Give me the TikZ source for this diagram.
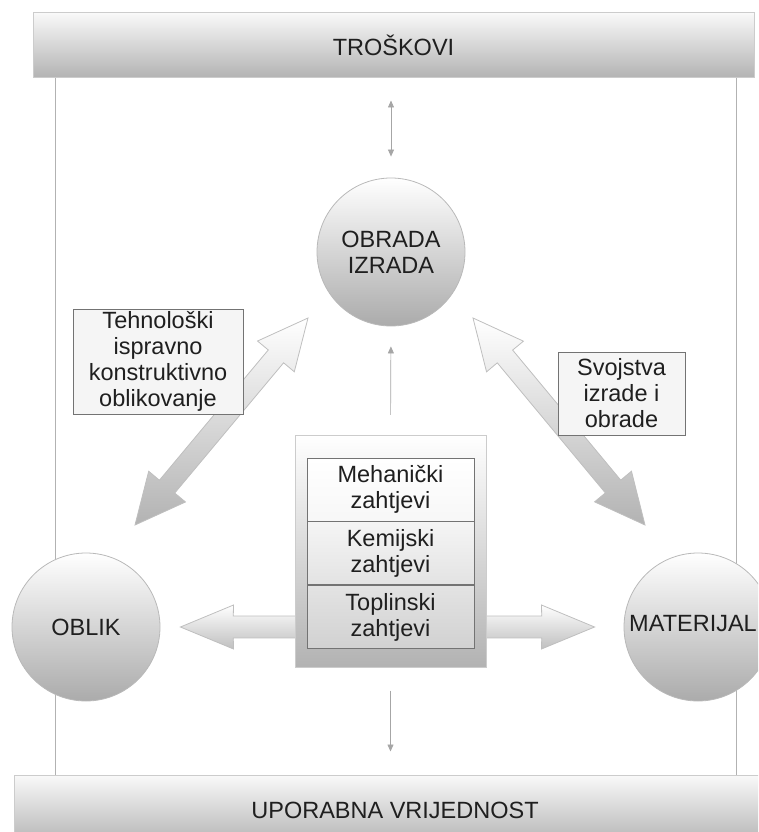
\documentclass[tikz,border=0pt]{standalone}
\usepackage{fontspec}
\setmainfont{Liberation Sans}
\usetikzlibrary{calc,positioning,arrows.meta}
\def\drawframe{\draw[color=gray!60, line width=0.8pt]}
\def\drawpointer{\draw[color=gray!70, line width=0.7pt]}
\def\barnode{\node[draw=gray!40, line width=1pt, top color=gray!5, bottom color=black!30, text=black!88]}
\def\bignode{\node[circle, draw=gray!55, line width=0.8pt, top color=white, bottom color=black!33, minimum size=148pt, inner sep=0pt, align=center, text=black!88]}
\def\labelnode{\node[draw=black!55, line width=0.8pt, fill=gray!8, align=center, inner sep=0pt, text=black!88]}
\def\rownode{\node[draw=black!55, line width=0.8pt, minimum width=167pt, minimum height=63pt, align=center, inner sep=0pt, text=black!88]}
\def\fatdouble#1#2{\shade[top color=white, bottom color=black!30, draw=gray!50, line width=0.8pt] (#1) -- ($(#1)!55.5pt!25.6:(#2)$) -- ($(#1)!51pt!11.3:(#2)$) -- ($(#2)!51pt!-11.3:(#1)$) -- ($(#2)!55.5pt!-25.6:(#1)$) -- (#2) -- ($(#2)!55.5pt!25.6:(#1)$) -- ($(#2)!51pt!11.3:(#1)$) -- ($(#1)!51pt!-11.3:(#2)$) -- ($(#1)!55.5pt!-25.6:(#2)$) -- cycle;}
\def\fatsingle#1#2{\shade[top color=white, bottom color=black!25, draw=gray!50, line width=0.8pt] ($(#1)!11pt!90:(#2)$) -- ($(#2)!54pt!-11.7:(#1)$) -- ($(#2)!57.5pt!-22.5:(#1)$) -- (#2) -- ($(#2)!57.5pt!22.5:(#1)$) -- ($(#2)!54pt!11.7:(#1)$) -- ($(#1)!11pt!-90:(#2)$) -- cycle;}
\begin{document}
\begin{tikzpicture}[x=1pt, y=-1pt, font=\fontsize{23.5}{26}\selectfont]
\useasboundingbox (0,0) rectangle (758,832);
\clip (0,0) rectangle (758,832);
\drawframe (55,78) -- (55,775);
\drawframe (736,78) -- (736,775);
\barnode[minimum width=721pt, minimum height=65pt] (troskovi) at (393.5,45.5) {TROŠKOVI};
\barnode[minimum width=762pt, minimum height=70pt] (uporabna) at (395,810) {UPORABNA VRIJEDNOST};
\bignode (obrada) at (391,252) {OBRADA\\IZRADA};
\bignode (oblik) at (86,627) {OBLIK};
\bignode[label={[text=black!88, xshift=-5pt, yshift=3pt]center:MATERIJAL}] (materijal) at (698,627) {};
\coordinate (ta) at (135,525);
\coordinate (tb) at (308,318);
\coordinate (tc) at (473,318);
\coordinate (td) at (645,525);
\fatdouble{ta}{tb}
\fatdouble{tc}{td}
\labelnode[minimum width=170pt, minimum height=105pt] (tehno) at (158,361.5) {Tehnološki\\ispravno\\konstruktivno\\oblikovanje};
\labelnode[minimum width=127pt, minimum height=83pt] (svojstva) at (621.5,393.5) {Svojstva\\izrade i\\obrade};
\coordinate (lshaft) at (330,627);
\coordinate (ltip) at ($(oblik.east)+(20,0)$);
\coordinate (rshaft) at (450,627);
\coordinate (rtip) at ($(materijal.west)+(-29,0)$);
\fatsingle{lshaft}{ltip}
\fatsingle{rshaft}{rtip}
\node[draw=gray!40, line width=1pt, top color=white, bottom color=black!30, minimum width=191pt, minimum height=232pt] (zahtjevi) at (390.5,551) {};
\rownode[top color=white, bottom color=gray!6] (meh) at (390.5,489.5) {Mehanički\\zahtjevi};
\rownode[top color=gray!8, bottom color=gray!22, below=0pt of meh] (kem) {Kemijski\\zahtjevi};
\rownode[top color=gray!22, bottom color=gray!36, below=0pt of kem] (topl) {Toplinski\\zahtjevi};
\drawpointer[{Triangle[width=6pt,length=7pt]}-{Triangle[width=6pt,length=7pt]}, shorten <=22pt, shorten >=21pt] (obrada.north |- troskovi.south) -- (obrada.north);
\drawpointer[-{Triangle[width=6pt,length=7pt]}, shorten <=20pt, shorten >=20pt] (zahtjevi.north) -- (obrada.south);
\drawpointer[-{Triangle[width=6pt,length=7pt]}, shorten <=23pt, shorten >=23pt] (zahtjevi.south) -- (zahtjevi.south |- uporabna.north);
\end{tikzpicture}
\end{document}
